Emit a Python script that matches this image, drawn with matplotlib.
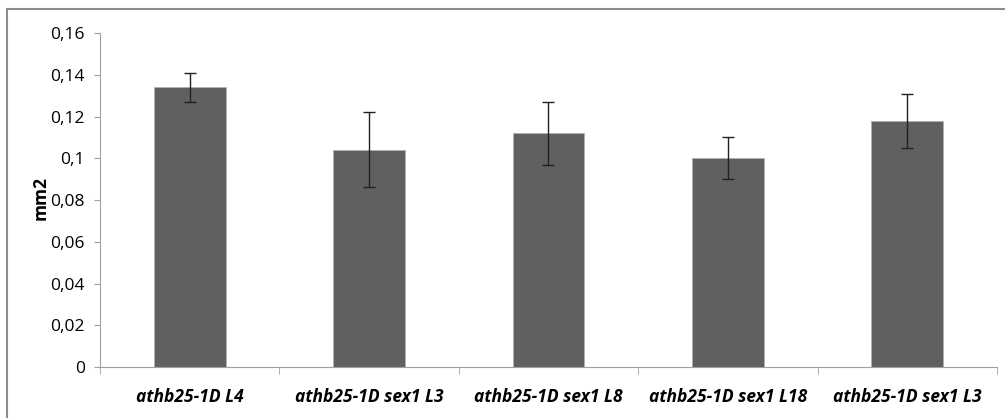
import matplotlib.pyplot as plt
from matplotlib.lines import Line2D
import numpy as np

# Data
lines = ["athb25-1D L4", "athb25-1D sex1 L3", "athb25-1D sex1 L8",
         "athb25-1D sex1 L18", "athb25-1D sex1 L3"]
area = [0.134, 0.104, 0.112, 0.100, 0.118]
err = [0.007, 0.018, 0.015, 0.010, 0.013]
yticks = [0, 0.02, 0.04, 0.06, 0.08, 0.1, 0.12, 0.14, 0.16]
ytick_labels = ["0", "0,02", "0,04", "0,06", "0,08", "0,1", "0,12", "0,14", "0,16"]

plt.rcParams['font.family'] = ['Open Sans', 'DejaVu Sans']

fig = plt.figure(figsize=(10.05, 4.18), dpi=100)
ax = fig.add_axes([0.0995, 0.122, 0.8925, 0.799])

x = np.arange(len(lines))
ax.bar(x, area, width=0.4, color='#606060', edgecolor='#b0b0b0', linewidth=0.6,
       yerr=err, error_kw=dict(ecolor='#202020', elinewidth=1, capsize=4, capthick=1))

ax.set_xlim(-0.5, len(lines) - 0.5)
ax.set_ylim(0, 0.16)
ax.set_yticks(yticks)
ax.set_yticklabels(ytick_labels, fontsize=12.5)
ax.set_xticks(x)
ax.set_xticklabels(lines, fontsize=12.5, fontweight='bold', style='italic')
ax.tick_params(axis='x', length=0, pad=15)
ax.set_xticks(np.arange(len(lines) + 1) - 0.5, minor=True)
ax.tick_params(axis='x', which='minor', length=5, color='#a0a0a0')
ax.tick_params(axis='y', length=4, color='#a0a0a0', pad=7)

for s in ['top', 'right']:
    ax.spines[s].set_visible(False)
for s in ['left', 'bottom']:
    ax.spines[s].set_color('#a0a0a0')
    ax.spines[s].set_linewidth(0.8)

fig.text(0.040, 0.525, 'mm2', rotation=90, fontsize=12.5, fontweight='bold',
         ha='center', va='center')

# chart frame (left and top edges visible)
fig.add_artist(Line2D([0.007, 0.007], [0.0, 0.978], transform=fig.transFigure,
                      color='#8c8c8c', linewidth=1.5))
fig.add_artist(Line2D([0.007, 1.0], [0.978, 0.978], transform=fig.transFigure,
                      color='#8c8c8c', linewidth=1.5))

fig.savefig('out.png', dpi=100)
